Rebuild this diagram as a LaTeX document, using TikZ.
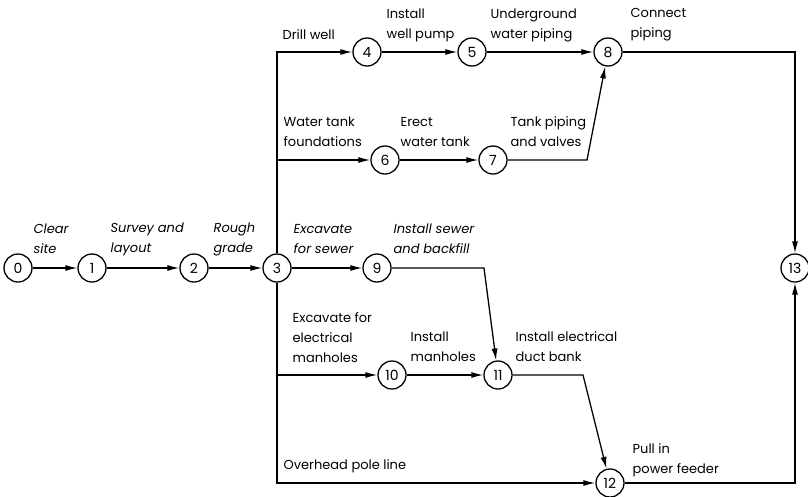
\documentclass[tikz,border=0pt]{standalone}
\usepackage{fontspec}
\setmainfont{Poppins}
\usetikzlibrary{arrows.meta}

\begin{document}
\begin{tikzpicture}[
  x=1pt, y=-1pt, >={Latex[length=12pt, width=6pt]}, line width=1.3pt,
  font=\fontsize{13}{20}\selectfont,
  ev/.style={circle, draw, line width=1.3pt, minimum size=28pt, inner sep=0pt, font=\fontsize{14}{14}\selectfont},
  lbl/.style={anchor=west, align=left, inner sep=0pt},
  itl/.style={lbl, font=\fontsize{13}{20}\selectfont\itshape}
]
  \useasboundingbox (0,0) rectangle (808,496);
  % events
  \node[ev] (n0) at (18,268) {0};
  \node[ev] (n1) at (92,268) {1};
  \node[ev] (n2) at (194,268) {2};
  \node[ev] (n3) at (277,268) {3};
  \node[ev] (n9) at (377,268) {9};
  \node[ev] (n4) at (367,52) {4};
  \node[ev] (n5) at (472,52) {5};
  \node[ev] (n8) at (608,52) {8};
  \node[ev] (n6) at (385,160) {6};
  \node[ev] (n7) at (493,160) {7};
  \node[ev] (n10) at (392,375) {10};
  \node[ev] (n11) at (498,375) {11};
  \node[ev] (n12) at (610,483) {12};
  \node[ev] (n13) at (795,268) {13};
  % bends
  \coordinate (c78) at (587,160);
  \coordinate (c911) at (484,268);
  \coordinate (c1112) at (583,375);
  % activities
  \node[itl] (a01) at (33,239) {Clear\\site};
  \node[itl] (a12) at (110,239) {Survey and\\layout};
  \node[itl] (a23) at (213,239) {Rough\\grade};
  \node[itl] (a39) at (293,239) {Excavate\\for sewer};
  \node[itl] (a911) at (393,239) {Install sewer\\and backfill};
  \node[lbl] (a34) at (282,35) {Drill well};
  \node[lbl] (a45) at (386,25) {Install\\well pump};
  \node[lbl] (a58) at (490,25) {Underground\\water piping};
  \node[lbl] (a813) at (630,25) {Connect\\piping};
  \node[lbl] (a36) at (283,132) {Water tank\\foundations};
  \node[lbl] (a67) at (400,132) {Erect\\water tank};
  \node[lbl] (a78) at (510,132) {Tank piping\\and valves};
  \node[lbl] (a310) at (292,338) {Excavate for\\electrical\\manholes};
  \node[lbl] (a1011) at (410,347) {Install\\manholes};
  \node[lbl] (a1112) at (515,347) {Install electrical\\duct bank};
  \node[lbl] (a312) at (283,466) {Overhead pole line};
  \node[lbl] (a1213) at (632,460) {Pull in\\power feeder};
  % connectors
  \draw[->] (n0) -- (n1);
  \draw[->] (n1) -- (n2);
  \draw[->] (n2) -- (n3);
  \draw[->] (n3) -- (n9);
  \draw[->] (n3) |- (n4);
  \draw[->] (n4) -- (n5);
  \draw[->] (n5) -- (n8);
  \draw[->] (n3) |- (n6);
  \draw[->] (n6) -- (n7);
  \draw[->] (n7) -- (c78) -- (n8);
  \draw[->] (n8) -| (n13);
  \draw[->] (n9) -- (c911) -- (n11);
  \draw[->] (n3) |- (n10);
  \draw[->] (n10) -- (n11);
  \draw[->] (n11) -- (c1112) -- (n12);
  \draw[->] (n3) |- (n12);
  \draw[->] (n12) -| (n13);
\end{tikzpicture}
\end{document}
